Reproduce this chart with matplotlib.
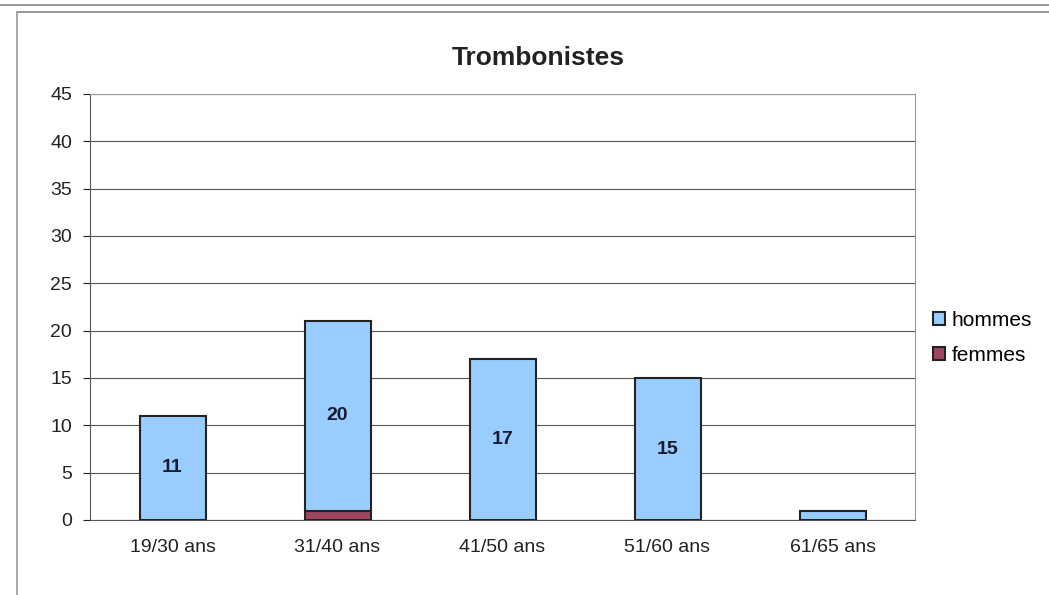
import matplotlib.pyplot as plt
import numpy as np

plt.rcParams['font.family'] = ['Liberation Sans', 'DejaVu Sans']

categories = ["19/30 ans", "31/40 ans", "41/50 ans", "51/60 ans", "61/65 ans"]
hommes = [11, 20, 17, 15, 1]
femmes = [0, 1, 0, 0, 0]
labels = ["11", "20", "17", "15", ""]

fig = plt.figure(figsize=(10.49, 5.95), dpi=100)
ax = fig.add_axes([90 / 1049, 75 / 595, 825 / 1049, 426 / 595])

x = np.arange(len(categories))
edge = "#222222"
b1 = ax.bar(x, femmes, 0.4, color="#A0465E", edgecolor=edge, linewidth=1.5, label="femmes", zorder=3)
b2 = ax.bar(x, hommes, 0.4, bottom=femmes, color="#99CCFF", edgecolor=edge, linewidth=1.5, label="hommes", zorder=3)

for i, t in enumerate(labels):
    if t:
        ax.text(x[i], femmes[i] + hommes[i] / 2, t, ha="center", va="center",
                fontsize=14, fontweight="bold", color="#1a1a2e", zorder=4)

ax.set_xlim(-0.5, 4.5)
ax.set_ylim(0, 45)
ax.set_yticks(range(0, 46, 5))
ax.set_xticks(x)
ax.set_xticklabels(categories)
ax.tick_params(axis="both", labelsize=14, colors="#222222", direction="out", length=5)
ax.tick_params(axis="y", pad=8)
ax.tick_params(axis="x", length=0, pad=14)
ax.yaxis.grid(True, color="#555555", linewidth=0.8, zorder=0)
for s in ["top", "right"]:
    ax.spines[s].set_color("#999999")
for s in ["left", "bottom"]:
    ax.spines[s].set_color("#555555")

fig.text(538 / 1049, 1 - 58 / 595, "Trombonistes", ha="center", va="center",
         fontsize=19, fontweight="bold", color="#222222")

ax.legend([b2, b1], ["hommes", "femmes"], loc="center left", bbox_to_anchor=(914 / 1049, 1 - 338 / 595),
          bbox_transform=fig.transFigure, frameon=False, fontsize=15, handlelength=0.6,
          handleheight=0.6, handletextpad=0.3, labelspacing=0.75)

# outer chart frame
fig.add_artist(plt.Line2D([0, 1], [1 - 5 / 595, 1 - 5 / 595], color="#888888", lw=1.2))
fig.add_artist(plt.Line2D([17 / 1049, 1], [1 - 12 / 595, 1 - 12 / 595], color="#888888", lw=1.2))
fig.add_artist(plt.Line2D([17 / 1049, 17 / 1049], [0, 1 - 12 / 595], color="#999999", lw=1.2))

fig.savefig("out.png", dpi=100)
